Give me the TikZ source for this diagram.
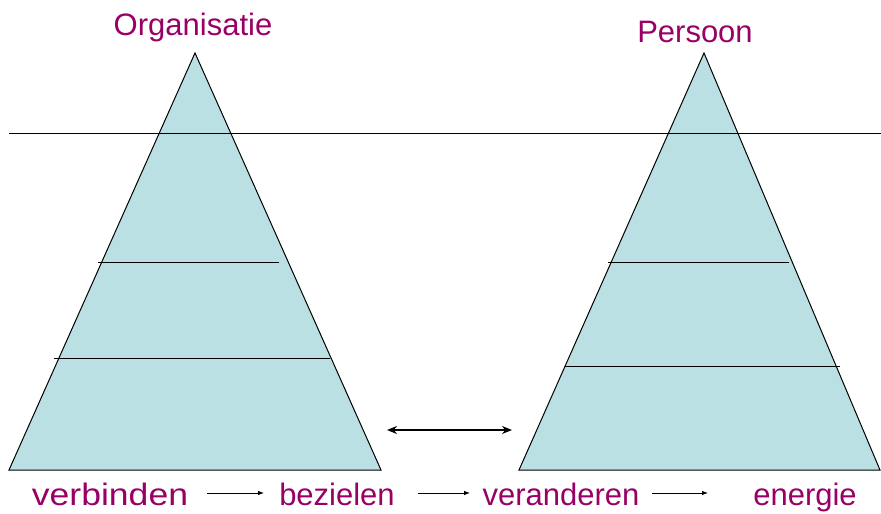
\documentclass[tikz,border=0pt]{standalone}
\usepackage{fontspec}
\setmainfont{Liberation Sans}
\usetikzlibrary{arrows.meta, positioning}
\definecolor{paars}{RGB}{153,0,102}
\definecolor{lichtblauw}{RGB}{187,224,227}

\begin{document}
\begin{tikzpicture}[x=1pt, y=-1pt, >=Latex,
  woord/.style={text=paars, font=\fontsize{31}{31}\selectfont, anchor=base, inner sep=0pt},
  piramide/.style={fill=lichtblauw, draw=black, line width=1pt},
  laag/.style={line width=0.9pt},
  pijl/.style={->, line width=0.8pt, >={Latex[length=6pt, width=4.5pt]}}]
  \useasboundingbox (0,0) rectangle (881,514);
  % pyramids
  \filldraw[piramide] (195,53) -- (381,470) -- (9,470) -- cycle;
  \filldraw[piramide] (704,53) -- (880,470) -- (519,470) -- cycle;
  % layers
  \draw[laag] (9,133) -- (881,133);
  \draw[laag] (98,262) -- (279,262);
  \draw[laag] (54,358) -- (330,358);
  \draw[laag] (608,262) -- (789,262);
  \draw[laag] (565,366) -- (840,366);
  % titles
  \node[woord] (organisatie) at (193,35) {Organisatie};
  \node[woord] (persoon) at (695,42) {Persoon};
  % link between the two
  \coordinate (links) at (387,430);
  \coordinate (rechts) at (512,430);
  \draw[{Stealth[length=10pt, width=8pt]}-{Stealth[length=10pt, width=8pt]}, line width=2pt] (links) -- (rechts);
  % bottom row
  \node[woord] (verbinden) at (110,505) {\scalebox{1.147}[1]{verbinden}};
  \node[woord] (bezielen) at (337,505) {bezielen};
  \node[woord] (veranderen) at (561,505) {veranderen};
  \node[woord] (energie) at (805,505) {energie};
  \coordinate (p1a) at (207,493);
  \coordinate (p1b) at (264,493);
  \coordinate (p2a) at (418,493);
  \coordinate (p2b) at (470,493);
  \coordinate (p3a) at (652,493);
  \coordinate (p3b) at (708,493);
  \draw[pijl] (p1a) -- (p1b);
  \draw[pijl] (p2a) -- (p2b);
  \draw[pijl] (p3a) -- (p3b);
\end{tikzpicture}
\end{document}
